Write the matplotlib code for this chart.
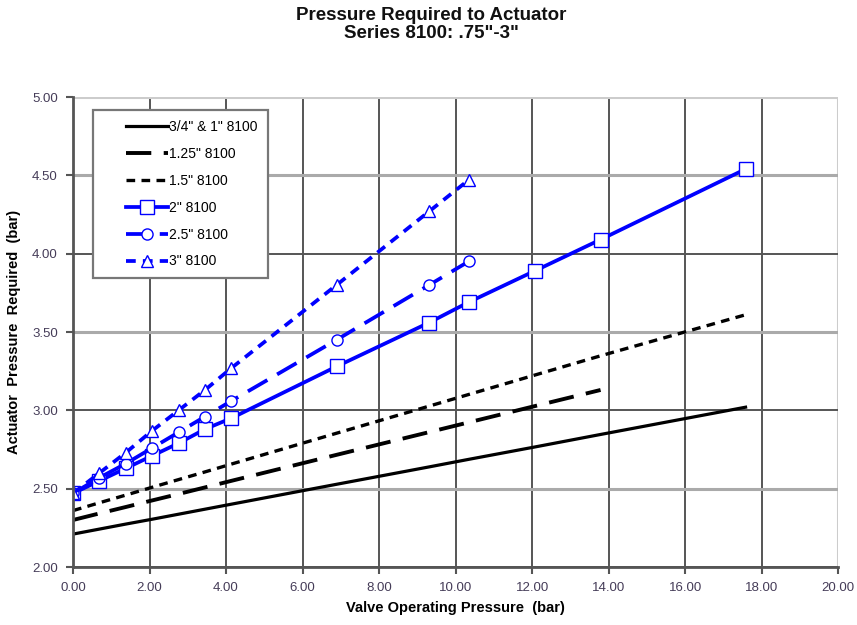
import matplotlib
matplotlib.use("Agg")
import matplotlib.pyplot as plt
from matplotlib.legend_handler import HandlerLine2D
from matplotlib.lines import Line2D

plt.rcParams['font.family'] = ['Liberation Sans', 'DejaVu Sans']

# Valve operating pressure (bar)
x_long = [0.00, 0.69, 1.38, 2.07, 2.76, 3.45, 4.14, 6.89, 9.31, 10.34, 12.07, 13.79, 17.58]
x_mid = [0.00, 0.69, 1.38, 2.07, 2.76, 3.45, 4.14, 6.89, 9.31, 10.34, 12.07, 13.79]
x_short = [0.00, 0.69, 1.38, 2.07, 2.76, 3.45, 4.14, 6.89, 9.31, 10.34]

# Actuator pressure required (bar)
y_075_1 = [2.210, 2.242, 2.274, 2.305, 2.337, 2.369, 2.401, 2.528, 2.639, 2.687, 2.766, 2.846, 3.020]
y_125 = [2.300, 2.342, 2.383, 2.425, 2.466, 2.508, 2.550, 2.716, 2.861, 2.923, 3.027, 3.130]
y_15 = [2.360, 2.410, 2.459, 2.509, 2.558, 2.607, 2.657, 2.854, 3.027, 3.101, 3.225, 3.348, 3.610]
y_2 = [2.47, 2.55, 2.63, 2.71, 2.79, 2.88, 2.95, 3.28, 3.56, 3.69, 3.89, 4.09, 4.54]
y_25 = [2.47, 2.57, 2.66, 2.76, 2.86, 2.96, 3.06, 3.45, 3.80, 3.95]
y_3 = [2.47, 2.60, 2.73, 2.87, 3.00, 3.13, 3.27, 3.80, 4.27, 4.47]

labels = ['3/4" & 1" 8100', '1.25" 8100', '1.5" 8100', '2" 8100', '2.5" 8100', '3" 8100']
x_ticks = [0, 2, 4, 6, 8, 10, 12, 14, 16, 18, 20]
y_ticks = [2.00, 2.50, 3.00, 3.50, 4.00, 4.50, 5.00]

fig = plt.figure(figsize=(8.57, 6.25), dpi=100)
ax = fig.add_axes([0.0852, 0.0928, 0.8928, 0.752])

blue = '#0000FF'
ax.plot(x_long, y_075_1, color='black', lw=2.3, label=labels[0])
ax.plot(x_mid, y_125, color='black', lw=2.8, dashes=(6.5, 3.2), label=labels[1])
ax.plot(x_long, y_15, color='black', lw=2.4, dashes=(2.6, 1.9), label=labels[2])
ax.plot(x_long, y_2, color=blue, lw=2.7, marker='s', ms=10, mfc='white',
        mec=blue, mew=1.0, label=labels[3])
ax.plot(x_short, y_25, color=blue, lw=2.7, dashes=(6, 3), marker='o', ms=8,
        mfc='white', mec=blue, mew=1.0, label=labels[4])
ax.plot(x_short, y_3, color=blue, lw=2.7, dashes=(2.6, 1.9), marker='^', ms=8,
        mfc='white', mec=blue, mew=1.0, label=labels[5])

ax.set_xlim(0, 20)
ax.set_ylim(2, 5)
ax.set_xticks(x_ticks)
ax.set_yticks(y_ticks)
tick_col = '#453c58'
ax.set_xticklabels([f"{v:.2f}" for v in x_ticks], fontsize=9.5, color=tick_col)
ax.set_yticklabels([f"{v:.2f}" for v in y_ticks], fontsize=9.5, color=tick_col)
ax.tick_params(direction='out', length=5, width=1.5, color='#555555', pad=6)

ax.grid(True, color='#555555', lw=1.4)
ax.set_axisbelow(True)
ygl = ax.yaxis.get_gridlines()
for v, gl in zip(y_ticks, ygl):
    if v in (2.5, 3.5, 4.5):
        gl.set_color('#aaaaaa')
        gl.set_linewidth(2.2)
    elif v == 5.0:
        gl.set_color('#cccccc')
        gl.set_linewidth(2.2)
xgl = ax.xaxis.get_gridlines()
xgl[-1].set_color('#cccccc')
xgl[-1].set_linewidth(2.2)

for s in ['top', 'right']:
    ax.spines[s].set_visible(False)
for s in ['left', 'bottom']:
    ax.spines[s].set_color('#555555')
    ax.spines[s].set_linewidth(2)

ax.set_xlabel('Valve Operating Pressure  (bar)', fontsize=10.5, fontweight='bold', labelpad=5)
ax.set_ylabel('Actuator  Pressure  Required  (bar)', fontsize=10.5, fontweight='bold', labelpad=8)

fig.text(0.503, 0.975, 'Pressure Required to Actuator', ha='center', va='center',
         fontsize=13.5, fontweight='bold', color='#111111')
fig.text(0.503, 0.946, 'Series 8100: .75"-3"', ha='center', va='center',
         fontsize=13.5, fontweight='bold', color='#111111')

handler = HandlerLine2D(xpad=1.7)
leg = ax.legend(loc='upper left', bbox_to_anchor=(0.026, 0.972), borderaxespad=0,
                fontsize=10, frameon=True, fancybox=False, edgecolor='#777777',
                handlelength=4.7, labelspacing=0.93, borderpad=0.7, handletextpad=0.1,
                handler_map={Line2D: handler})
leg.get_frame().set_linewidth(1.6)
leg.get_frame().set_alpha(1)

fig.savefig('out.png', dpi=100)
